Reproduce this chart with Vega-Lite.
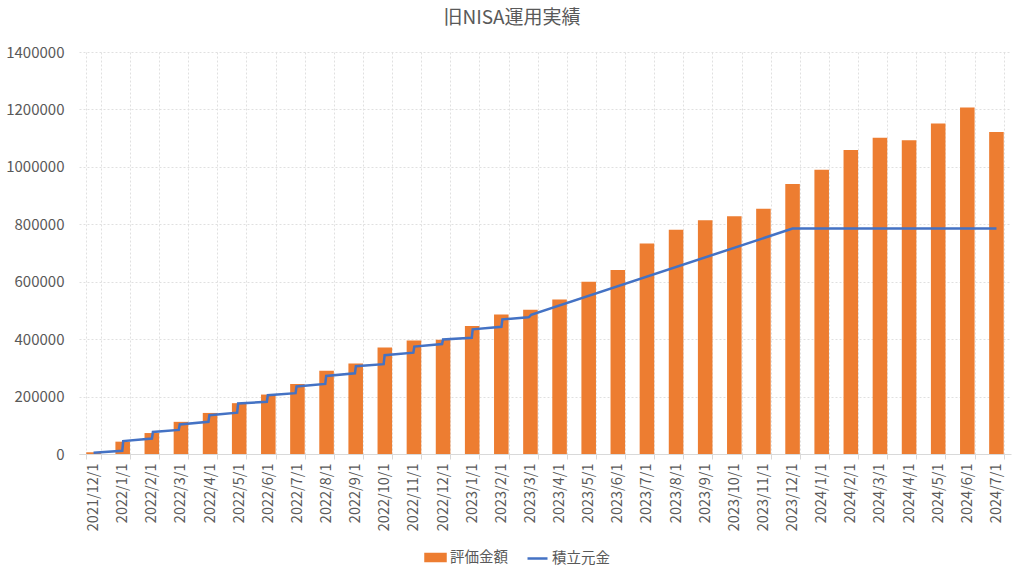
{
  "$schema": "https://vega.github.io/schema/vega-lite/v6.json",
  "width": 932,
  "height": 402,
  "autosize": {"type": "none"},
  "padding": {"left": 79, "top": 52, "right": 13, "bottom": 122},
  "background": "white",
  "title": {
    "text": "旧NISA運用実績",
    "anchor": "middle",
    "frame": "group",
    "dx": -33,
    "offset": 17,
    "fontSize": 19,
    "fontWeight": "normal",
    "color": "#595959",
    "font": "Noto Sans CJK JP"
  },
  "config": {
    "font": "Noto Sans CJK JP",
    "view": {"stroke": null}
  },
  "datasets": {
    "bars": [
      {"month": "2021/12/1", "value": 6000},
      {"month": "2022/1/1", "value": 43000},
      {"month": "2022/2/1", "value": 73000},
      {"month": "2022/3/1", "value": 112000},
      {"month": "2022/4/1", "value": 143000},
      {"month": "2022/5/1", "value": 177000},
      {"month": "2022/6/1", "value": 207000},
      {"month": "2022/7/1", "value": 244000},
      {"month": "2022/8/1", "value": 290000},
      {"month": "2022/9/1", "value": 315000},
      {"month": "2022/10/1", "value": 371000},
      {"month": "2022/11/1", "value": 395000},
      {"month": "2022/12/1", "value": 398000},
      {"month": "2023/1/1", "value": 446000},
      {"month": "2023/2/1", "value": 486000},
      {"month": "2023/3/1", "value": 502000},
      {"month": "2023/4/1", "value": 538000},
      {"month": "2023/5/1", "value": 600000},
      {"month": "2023/6/1", "value": 641000},
      {"month": "2023/7/1", "value": 733000},
      {"month": "2023/8/1", "value": 781000},
      {"month": "2023/9/1", "value": 814000},
      {"month": "2023/10/1", "value": 828000},
      {"month": "2023/11/1", "value": 854000},
      {"month": "2023/12/1", "value": 940000},
      {"month": "2024/1/1", "value": 990000},
      {"month": "2024/2/1", "value": 1059000},
      {"month": "2024/3/1", "value": 1101000},
      {"month": "2024/4/1", "value": 1093000},
      {"month": "2024/5/1", "value": 1151000},
      {"month": "2024/6/1", "value": 1207000},
      {"month": "2024/7/1", "value": 1121000}
    ],
    "line": [
      {"date": "2021-12-01", "value": 4500},
      {"date": "2021-12-31", "value": 11000},
      {"date": "2022-01-01", "value": 45000},
      {"date": "2022-01-31", "value": 54000},
      {"date": "2022-02-01", "value": 77000},
      {"date": "2022-02-28", "value": 84000},
      {"date": "2022-03-01", "value": 103000},
      {"date": "2022-03-31", "value": 112000},
      {"date": "2022-04-01", "value": 135000},
      {"date": "2022-04-30", "value": 144000},
      {"date": "2022-05-01", "value": 176000},
      {"date": "2022-05-31", "value": 182000},
      {"date": "2022-06-01", "value": 205000},
      {"date": "2022-06-30", "value": 212000},
      {"date": "2022-07-01", "value": 235000},
      {"date": "2022-07-31", "value": 244000},
      {"date": "2022-08-01", "value": 272000},
      {"date": "2022-08-31", "value": 281000},
      {"date": "2022-09-01", "value": 306000},
      {"date": "2022-09-30", "value": 313000},
      {"date": "2022-10-01", "value": 344000},
      {"date": "2022-10-31", "value": 353000},
      {"date": "2022-11-01", "value": 374000},
      {"date": "2022-11-30", "value": 383000},
      {"date": "2022-12-01", "value": 399000},
      {"date": "2022-12-31", "value": 405000},
      {"date": "2023-01-01", "value": 434000},
      {"date": "2023-01-31", "value": 443000},
      {"date": "2023-02-01", "value": 469000},
      {"date": "2023-02-28", "value": 476000},
      {"date": "2023-03-01", "value": 477000},
      {"date": "2023-03-03", "value": 485000},
      {"date": "2023-12-01", "value": 785000},
      {"date": "2024-07-01", "value": 785000}
    ]
  },
  "layer": [
    {
      "data": {"name": "bars"},
      "mark": {"type": "bar", "color": "#ED7D31"},
      "encoding": {
        "x": {
          "field": "month",
          "type": "ordinal",
          "sort": null,
          "scale": {"paddingInner": 0.5, "paddingOuter": 0.25},
          "axis": {
            "title": null,
            "tickBand": "extent",
            "labelAngle": -90,
            "labelFontSize": 14.5,
            "labelColor": "#595959",
            "labelPadding": 4,
            "domainColor": "#d9d9d9",
            "tickColor": "#d9d9d9",
            "tickSize": 5,
            "grid": true,
            "gridColor": "#e0e0e0",
            "gridDash": [2, 2]
          }
        },
        "y": {
          "field": "value",
          "type": "quantitative",
          "scale": {"domain": [0, 1400000]},
          "axis": {
            "title": null,
            "values": [0, 200000, 400000, 600000, 800000, 1000000, 1200000, 1400000],
            "format": "d",
            "domain": false,
            "ticks": false,
            "tickSize": 0,
            "labelPadding": 15,
            "labelFontSize": 15,
            "labelColor": "#595959",
            "grid": true,
            "gridColor": "#e0e0e0",
            "gridDash": [2, 2]
          }
        },
        "color": {
          "datum": "評価金額",
          "type": "nominal",
          "scale": {"domain": ["評価金額", "積立元金"], "range": ["#ED7D31", "#4472C4"]},
          "legend": {
            "title": null,
            "orient": "none",
            "direction": "horizontal",
            "legendX": 345,
            "legendY": 494,
            "labelFontSize": 14.5,
            "labelColor": "#595959",
            "labelOffset": 3,
            "columnPadding": 14,
            "symbolSize": 400,
            "encode": {
              "symbols": {
                "update": {
                  "shape": {"signal": "datum.value === '評価金額' ? 'M-1,-0.35H1V0.35H-1Z' : 'stroke'"},
                  "fill": {"signal": "datum.value === '評価金額' ? '#ED7D31' : 'transparent'"},
                  "stroke": {"signal": "datum.value === '評価金額' ? 'transparent' : '#4472C4'"},
                  "strokeWidth": {"value": 2.5},
                  "size": {"value": 400},
                  "opacity": {"value": 1}
                }
              }
            }
          }
        }
      }
    },
    {
      "data": {"name": "line"},
      "mark": {"type": "line", "strokeWidth": 2.5},
      "encoding": {
        "x": {
          "field": "date",
          "type": "temporal",
          "scale": {
            "type": "utc",
            "domain": [
              {"year": 2021, "month": 11, "date": 15, "hours": 19, "minutes": 12, "utc": true},
              {"year": 2024, "month": 7, "date": 16, "hours": 4, "minutes": 48, "utc": true}
            ]
          },
          "axis": null
        },
        "y": {"field": "value", "type": "quantitative", "title": null},
        "color": {"datum": "積立元金", "type": "nominal"}
      }
    }
  ],
  "resolve": {"scale": {"x": "independent"}}
}
